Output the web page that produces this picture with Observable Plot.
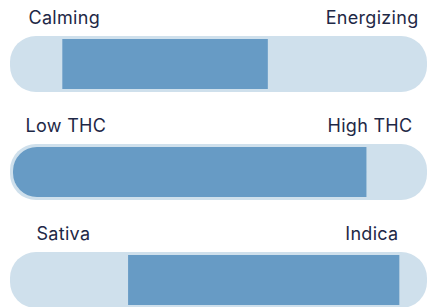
<!DOCTYPE html>
<html>
<head>
<meta charset="utf-8">
<script src="https://cdn.jsdelivr.net/npm/d3@7"></script>
<script src="https://cdn.jsdelivr.net/npm/@observablehq/plot@0.6"></script>
<style>
  html, body { margin: 0; padding: 0; background: #fff; }
  #chart svg { display: block; }
</style>
</head>
<body>
<div id="chart"></div>
<script>
// Data
const rowNames = ["Effect", "Potency", "Type"];
const leftLabels = ["Calming", "Low THC", "Sativa"];
const rightLabels = ["Energizing", "High THC", "Indica"];
const rangeStart = [12, 0, 28];
const rangeEnd = [62, 86, 94];

// Layout (label insets in px from track ends)
const labelInset = [[15, 6], [12, 12], [23, 26]];

const rows = rowNames.map((name, i) => ({
  name, left: leftLabels[i], right: rightLabels[i], start: rangeStart[i], end: rangeEnd[i]
}));

const trackColor = "#cfe0ec";
const fillColor = "#679bc5";
const textColor = "#1e2846";
const font = "Inter, Roboto, sans-serif";

const textMarks = rows.flatMap((r, i) => [
  Plot.text([r], {x: () => 0, y: "name", text: "left", textAnchor: "start", lineAnchor: "bottom",
    dx: labelInset[i][0], dy: -31, fill: textColor, fontSize: 18, fontWeight: 400}),
  Plot.text([r], {x: () => 100, y: "name", text: "right", textAnchor: "end", lineAnchor: "bottom",
    dx: -labelInset[i][1], dy: -31, fill: textColor, fontSize: 18, fontWeight: 400})
]);

const chart = Plot.plot({
  width: 428,
  height: 307,
  marginLeft: 13,
  marginRight: 4,
  marginTop: 0,
  marginBottom: 0,
  style: {fontFamily: font, letterSpacing: "0.3px", background: "#fff"},
  x: {domain: [0, 100], axis: null},
  y: {domain: rowNames, range: [0, 324], padding: 0, axis: null},
  marks: [
    Plot.barX(rows, {x1: () => 0, x2: () => 100, y: "name", fill: trackColor,
      insetLeft: -3, insetRight: -3, insetTop: 36, insetBottom: 16, rx: 26}),
    Plot.barX(rows.filter(d => d.start > 0), {x1: "start", x2: "end", y: "name", fill: fillColor,
      insetTop: 39, insetBottom: 19}),
    Plot.barX(rows.filter(d => d.start === 0), {x1: "start", x2: "end", y: "name", fill: fillColor,
      insetTop: 39, insetBottom: 19, rx1: 24}),
    ...textMarks
  ]
});
document.getElementById("chart").appendChild(chart);
</script>
</body>
</html>
